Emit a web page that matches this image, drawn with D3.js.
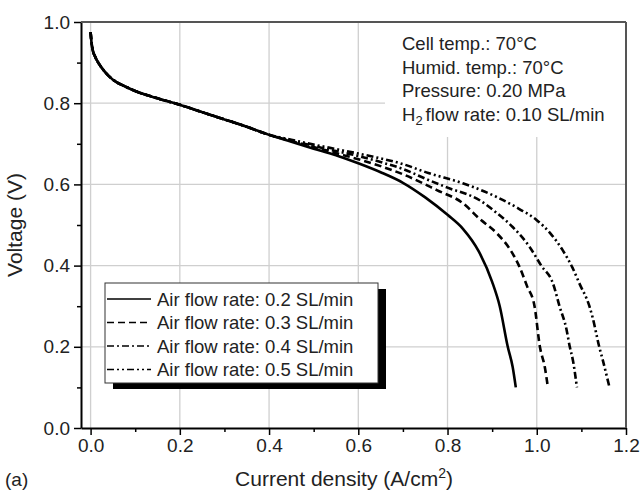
<!DOCTYPE html>
<html lang="en">
<head>
  <meta charset="UTF-8">
  <title>Polarization curves</title>
  <script src="https://d3js.org/d3.v7.min.js"></script>
  <style>
    body { margin: 0; padding: 0; background: #ffffff; }
    svg { display: block; font-family: 'Liberation Sans', Arial, Helvetica, sans-serif; }
  </style>
</head>
<body>
  <svg width="642" height="491"></svg>
  <script>
    // common low-current part of all four curves
    const currentCommon = [0, 0.002, 0.005, 0.01, 0.02, 0.03, 0.05, 0.08, 0.1, 0.15, 0.2, 0.25, 0.3, 0.35, 0.4];
    const voltageCommon = [0.975, 0.95, 0.93, 0.915, 0.895, 0.88, 0.858, 0.84, 0.83, 0.812, 0.796, 0.778, 0.76, 0.742, 0.722];

    // high-current part, one pair of arrays per air flow rate
    const current02 = [0.45, 0.5, 0.55, 0.6, 0.65, 0.7, 0.75, 0.8, 0.835, 0.87, 0.9, 0.917, 0.935, 0.946, 0.953];
    const voltage02 = [0.705, 0.688, 0.672, 0.652, 0.63, 0.604, 0.568, 0.525, 0.49, 0.435, 0.36, 0.3, 0.2, 0.15, 0.1];

    const current03 = [0.45, 0.5, 0.55, 0.6, 0.65, 0.7, 0.776, 0.834, 0.872, 0.91, 0.94, 0.96, 0.978, 0.995, 1.007, 1.018, 1.025];
    const voltage03 = [0.707, 0.692, 0.677, 0.662, 0.645, 0.625, 0.586, 0.554, 0.515, 0.48, 0.44, 0.4, 0.35, 0.3, 0.2, 0.15, 0.1];

    const current04 = [0.45, 0.5, 0.55, 0.6, 0.65, 0.7, 0.757, 0.8, 0.872, 0.91, 0.946, 0.984, 1.01, 1.036, 1.051, 1.067, 1.074, 1.081, 1.09];
    const voltage04 = [0.708, 0.695, 0.682, 0.67, 0.655, 0.638, 0.611, 0.592, 0.561, 0.53, 0.495, 0.446, 0.4, 0.357, 0.3, 0.241, 0.2, 0.167, 0.1];

    const current05 = [0.45, 0.5, 0.55, 0.6, 0.65, 0.7, 0.757, 0.834, 0.91, 0.96, 1.0, 1.03, 1.058, 1.08, 1.096, 1.118, 1.125, 1.14, 1.148, 1.163];
    const voltage05 = [0.71, 0.698, 0.687, 0.676, 0.664, 0.65, 0.628, 0.603, 0.569, 0.54, 0.512, 0.48, 0.438, 0.395, 0.355, 0.3, 0.273, 0.2, 0.167, 0.1];

    const seriesLabels = ["Air flow rate: 0.2 SL/min", "Air flow rate: 0.3 SL/min", "Air flow rate: 0.4 SL/min", "Air flow rate: 0.5 SL/min"];
    const infoLines = ["Cell temp.: 70\u00B0C", "Humid. temp.: 70\u00B0C", "Pressure: 0.20 MPa"];

    const xMajor = [0, 0.2, 0.4, 0.6, 0.8, 1.0, 1.2];
    const xMinor = [0.1, 0.3, 0.5, 0.7, 0.9, 1.1];
    const yMajor = [0, 0.2, 0.4, 0.6, 0.8, 1.0];
    const yMinor = [0.1, 0.3, 0.5, 0.7, 0.9];

    const dashes = [null, "7,4", "7,3,2,3", "7,3,2,3,2,3"];

    const svg = d3.select("svg");
    const plotL = 81, plotR = 626, plotT = 22, plotB = 428;

    const x = d3.scaleLinear().domain([-0.0215, 1.2]).range([plotL, plotR]);
    const y = d3.scaleLinear().domain([0, 1]).range([plotB, plotT]);

    svg.append("rect").attr("width", 642).attr("height", 491).attr("fill", "#fff");

    // grid
    svg.selectAll("line.vgrid")
      .data(xMajor.filter(d => d < 1.2))
      .enter().append("line")
      .attr("x1", d => x(d)).attr("x2", d => x(d))
      .attr("y1", plotT).attr("y2", plotB)
      .attr("stroke", "#cfcfcf").attr("stroke-width", 1.3);

    svg.selectAll("line.hgrid")
      .data(yMajor.filter(d => d > 0 && d < 1))
      .enter().append("line")
      .attr("x1", plotL).attr("x2", plotR)
      .attr("y1", d => y(d)).attr("y2", d => y(d))
      .attr("stroke", "#cfcfcf").attr("stroke-width", 1.3);

    // white panel under the conditions text
    svg.append("rect")
      .attr("x", 385).attr("y", plotT).attr("width", plotR - 385).attr("height", 137 - plotT)
      .attr("fill", "#fff");

    // curves
    const series = [
      { i: currentCommon.concat(current02), v: voltageCommon.concat(voltage02) },
      { i: currentCommon.concat(current03), v: voltageCommon.concat(voltage03) },
      { i: currentCommon.concat(current04), v: voltageCommon.concat(voltage04) },
      { i: currentCommon.concat(current05), v: voltageCommon.concat(voltage05) }
    ];

    const line = d3.line()
      .x(d => x(d[0]))
      .y(d => y(d[1]))
      .curve(d3.curveMonotoneX);

    series.forEach((s, k) => {
      svg.append("path")
        .datum(s.i.map((c, j) => [c, s.v[j]]))
        .attr("d", line)
        .attr("fill", "none")
        .attr("stroke", "#000")
        .attr("stroke-width", 2.6)
        .attr("stroke-dasharray", dashes[k]);
    });

    // axes
    const fontTick = "19px";

    svg.append("g")
      .attr("transform", `translate(0,${plotB})`)
      .call(d3.axisBottom(x).tickValues(xMajor).tickFormat(d3.format(".1f")).tickSize(7).tickSizeOuter(0).tickPadding(4));
    svg.append("g")
      .attr("transform", `translate(0,${plotB})`)
      .call(d3.axisBottom(x).tickValues(xMinor).tickFormat("").tickSize(4).tickSizeOuter(0))
      .select(".domain").remove();

    svg.append("g")
      .attr("transform", `translate(${plotL},0)`)
      .call(d3.axisLeft(y).tickValues(yMajor).tickFormat(d3.format(".1f")).tickSize(7).tickSizeOuter(0).tickPadding(4));
    svg.append("g")
      .attr("transform", `translate(${plotL},0)`)
      .call(d3.axisLeft(y).tickValues(yMinor).tickFormat("").tickSize(4).tickSizeOuter(0))
      .select(".domain").remove();

    svg.selectAll(".tick line").attr("stroke", "#000").attr("stroke-width", 1.5);
    svg.selectAll(".domain").attr("stroke", "#000").attr("stroke-width", 2);
    svg.selectAll(".tick text")
      .attr("font-family", "'Liberation Sans', Arial, sans-serif")
      .attr("font-size", fontTick)
      .attr("fill", "#222");

    // frame top and right
    svg.append("line").attr("x1", plotL).attr("x2", plotR).attr("y1", plotT).attr("y2", plotT)
      .attr("stroke", "#555").attr("stroke-width", 2);
    svg.append("line").attr("x1", plotR).attr("x2", plotR).attr("y1", plotT).attr("y2", plotB)
      .attr("stroke", "#555").attr("stroke-width", 2);

    // axis titles
    const xt = svg.append("text")
      .attr("x", 344).attr("y", 486)
      .attr("text-anchor", "middle")
      .attr("font-size", "21px").attr("fill", "#222")
      .text("Current density (A/cm");
    xt.append("tspan").attr("dy", -8).attr("font-size", "14px").text("2");
    xt.append("tspan").attr("dy", 8).text(")");

    svg.append("text")
      .attr("transform", "translate(22,225) rotate(-90)")
      .attr("text-anchor", "middle")
      .attr("font-size", "21px").attr("fill", "#222")
      .text("Voltage (V)");

    svg.append("text")
      .attr("x", 5).attr("y", 486)
      .attr("font-size", "19px").attr("fill", "#222")
      .text("(a)");

    // conditions text
    svg.selectAll("text.info")
      .data(infoLines)
      .enter().append("text")
      .attr("x", 402).attr("y", (d, k) => 50 + k * 23.7)
      .attr("font-size", "18.5px").attr("fill", "#222")
      .text(d => d);
    const h2 = svg.append("text")
      .attr("x", 402).attr("y", 50 + 3 * 23.7)
      .attr("font-size", "18.5px").attr("fill", "#222")
      .text("H");
    h2.append("tspan").attr("dy", 4).attr("font-size", "13px").text("2");
    h2.append("tspan").attr("dy", -4).attr("dx", 3).text("flow rate: 0.10 SL/min");

    // legend
    const lg = { x: 105, y: 283, w: 273, h: 100 };
    svg.append("rect")
      .attr("x", lg.x + 8).attr("y", lg.y + 6).attr("width", lg.w).attr("height", lg.h)
      .attr("fill", "#000");
    svg.append("rect")
      .attr("x", lg.x).attr("y", lg.y).attr("width", lg.w).attr("height", lg.h)
      .attr("fill", "#fff").attr("stroke", "#333").attr("stroke-width", 1);

    seriesLabels.forEach((label, k) => {
      const yy = lg.y + 16 + k * 23.5;
      svg.append("line")
        .attr("x1", lg.x + 2).attr("x2", 151)
        .attr("y1", yy).attr("y2", yy)
        .attr("stroke", "#000").attr("stroke-width", 1.6)
        .attr("stroke-dasharray", dashes[k]);
      svg.append("text")
        .attr("x", 157).attr("y", yy + 6.5)
        .attr("font-size", "18.5px").attr("fill", "#222")
        .text(label);
    });
  </script>
</body>
</html>
